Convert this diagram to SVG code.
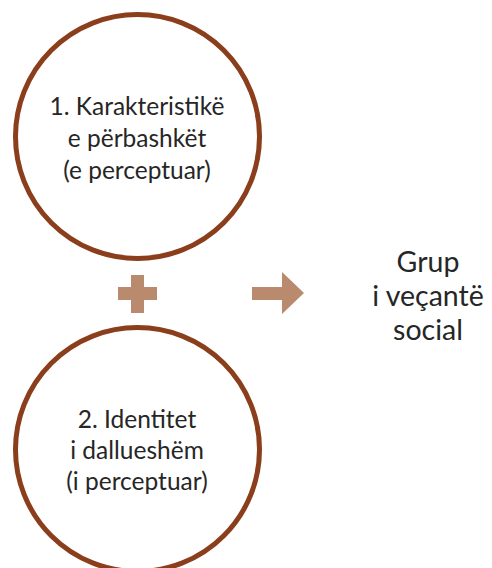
<svg xmlns="http://www.w3.org/2000/svg" width="492" height="568" viewBox="0 0 492 568">
<style>
.c{fill:#fff;stroke:#8B3E1B;stroke-width:5}
.t{font-family:Lato,"Open Sans",sans-serif;font-size:24.5px;fill:#262626;text-anchor:middle}
.r{font-size:28.5px}
.s{fill:#B98A6E}
</style>
<rect width="492" height="568" fill="#fff"/>
<g id="node1">
<circle class="c" cx="137.5" cy="136.5" r="122"/>
<text class="t" x="137" y="115">1. Karakteristikë</text>
<text class="t" x="137" y="147">e përbashkët</text>
<text class="t" x="137" y="179">(e perceptuar)</text>
</g>
<g id="node2">
<circle class="c" cx="137.5" cy="449.5" r="122"/>
<text class="t" x="137" y="428">2. Identitet</text>
<text class="t" x="137" y="459">i dallueshëm</text>
<text class="t" x="137" y="490">(i perceptuar)</text>
</g>
<g id="plus">
<path class="s" d="M131,275H144V287H157V300H144V313H131V300H118V287H131Z"/>
</g>
<g id="connectors">
<path class="s" d="M252,287H282V272L304,293L282,314V300H252Z"/>
</g>
<g id="node3">
<text class="t r" x="428" y="272">Grup</text>
<text class="t r" x="428" y="306">i veçantë</text>
<text class="t r" x="428" y="340">social</text>
</g>
</svg>
